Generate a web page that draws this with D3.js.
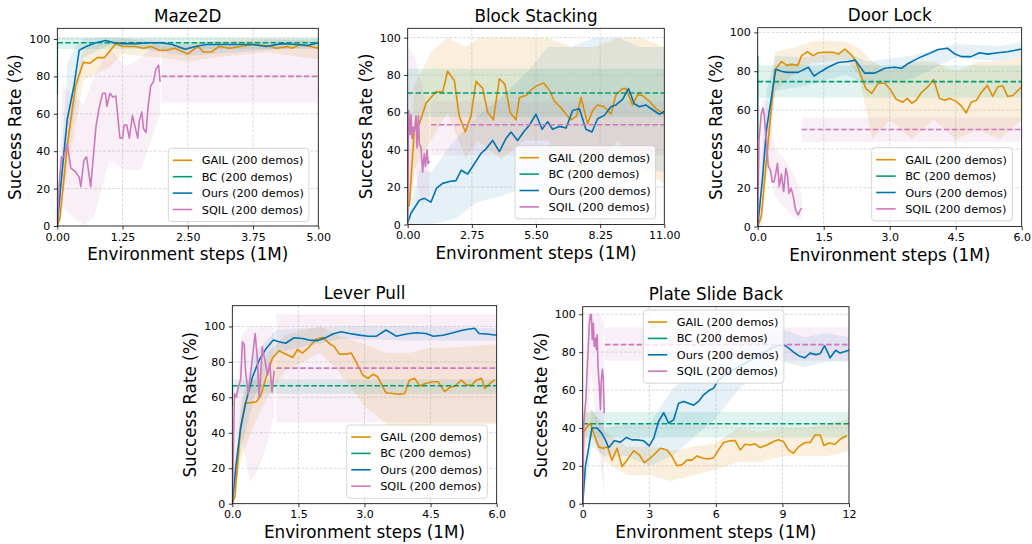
<!DOCTYPE html>
<html>
<head>
<meta charset="utf-8">
<script src="https://cdn.jsdelivr.net/npm/d3@7"></script>
<style>
    body { margin: 0; background: #fff; }
    text { font-family: "DejaVu Sans", sans-serif; fill: #000; }
</style>
</head>
<body>
<div id="chart"></div>
<script>

// ---- data ----
var panelTitles = ["Maze2D", "Block Stacking", "Door Lock", "Lever Pull", "Plate Slide Back"];
var xMaxes = [5, 11, 6, 6, 12];
var xTickValues = [[0, 1.25, 2.5, 3.75, 5], [0, 2.75, 5.5, 8.25, 11], [0, 1.5, 3, 4.5, 6], [0, 1.5, 3, 4.5, 6], [0, 3, 6, 9, 12]];
var xTickFormats = [".2f", ".2f", ".1f", ".1f", "d"];
var yTickValues = [0, 20, 40, 60, 80, 100];
var legendLabels = ["GAIL (200 demos)", "BC (200 demos)", "Ours (200 demos)", "SQIL (200 demos)"];

// BC: flat mean with band, plus the short segment at step 0
var bcMean = [98, 70.4, 74.6, 66.5, 42.2];
var bcLow = [94.6, 57.5, 66.5, 62, 35];
var bcHigh = [101, 83.4, 83, 70, 48.5];
var bcInitial = [[70, 98], null, [45, 88], [55, 66.5], null];

// SQIL: dashed final level after the run stops
var sqilTailStart = [2.0, 1.0, 1.0, 1.0, 1.0];
var sqilTailMean = [80, 53.4, 50, 76.5, 84];
var sqilTailLow = [66, 37, 43.5, 46, 75.5];
var sqilTailHigh = [96, 66, 56, 107, 93];

// Maze2D
var mazeGail = [[0,0],[0.05,4],[0.2,45],[0.35,75],[0.5,87.5],[0.62,87],[0.77,90],[0.9,90],[1.12,97.5],[1.25,96],[1.5,96],[1.65,95],[1.8,96],[1.95,94],[2.1,94],[2.25,95],[2.5,92],[2.7,96],[2.8,93],[2.95,93],[3.1,96],[3.3,95],[3.5,96],[3.75,97],[4.0,96.5],[4.2,95],[4.4,96],[4.5,95],[4.65,97],[4.85,96],[5.0,95]];
var mazeGailBand = [[0,0,0],[0.2,30,60],[0.5,78,95],[1.0,85,99],[1.25,92,100],[2.0,90,98],[2.5,88,97],[3.0,90,99],[4.0,93,100],[5.0,89,99]];
var mazeOurs = [[0,0],[0.06,20],[0.19,57],[0.32,75],[0.42,94],[0.55,96],[0.74,98],[0.93,99.2],[1.09,98],[1.25,97.5],[1.5,97.5],[1.75,98],[2.0,98],[2.2,97],[2.45,94.5],[2.65,96],[2.85,97],[3.35,97],[3.75,97],[4.0,96],[4.3,97.5],[4.6,97],[4.8,96.5],[5.0,98]];
var mazeOursBand = [[0,0,0],[0.2,40,88],[0.35,65,96],[0.5,90,100],[1.0,97,101],[2.5,91,98],[5.0,96,100]];
var mazeSqil = [[0,0],[0.03,20],[0.08,37],[0.13,37],[0.19,44],[0.26,31],[0.35,29],[0.42,26],[0.45,21],[0.51,35],[0.56,37],[0.64,21],[0.74,53],[0.8,63],[0.87,71],[0.92,71],[0.95,64],[1.01,71],[1.06,69],[1.12,69.5],[1.2,47],[1.25,47],[1.28,54],[1.33,54],[1.38,47],[1.44,59],[1.49,53],[1.54,47],[1.57,56],[1.62,61],[1.65,52],[1.7,50],[1.74,64],[1.79,75],[1.84,77],[1.89,84],[1.94,86],[1.97,77]];
var mazeSqilBand = [[0,0,0],[0.1,10,75],[0.3,5,70],[0.5,0,65],[0.7,5,80],[1.0,35,95],[1.3,30,85],[1.6,30,90],[1.97,60,100]];

// Block Stacking
var blockGail = [[0,10],[0.07,10],[0.29,52],[0.5,54],[0.79,65],[1.0,68],[1.21,71],[1.5,71],[1.71,82],[2.0,77],[2.21,58],[2.47,49.5],[2.71,58],[2.93,76.6],[3.21,73],[3.43,60],[3.67,56],[3.93,78],[4.17,75],[4.39,60],[4.64,56],[4.79,68],[5.07,69],[5.29,72],[5.5,74],[5.83,75.7],[6.07,72],[6.29,66],[6.53,63],[6.79,59],[7.0,56],[7.24,58],[7.43,68],[7.71,54],[7.93,61],[8.14,64],[8.43,63],[8.71,59],[8.93,69.5],[9.21,72.7],[9.36,72.7],[9.64,64],[9.86,69.5],[10.07,69],[10.36,66],[10.64,62],[11,59]];
var blockGailBand = [[0,0,20],[0.3,30,75],[1,45,92],[1.7,60,100],[2.5,35,95],[3,45,100],[4,35,100],[5,45,100],[6,45,100],[7,25,95],[8,30,95],[9,45,100],[10,30,100],[11,22,95]];
var blockOurs = [[0,1],[0.14,6],[0.5,13],[0.71,14],[1.0,12],[1.24,19.5],[1.5,22],[1.79,23],[2.07,23.5],[2.29,29],[2.57,27],[2.86,32.5],[3.14,38],[3.36,40.5],[3.64,45],[3.93,39],[4.21,46],[4.43,49.5],[4.71,45],[5.0,50],[5.21,53],[5.5,59],[5.76,51],[6.0,55],[6.21,51],[6.5,52.5],[6.79,51.6],[7.07,61],[7.36,62],[7.64,51],[7.9,49.5],[8.14,56.6],[8.43,58.4],[8.71,63],[8.93,64],[9.21,67],[9.47,72.7],[9.71,64.6],[9.93,63],[10.2,64],[10.5,61.4],[10.79,59],[11,60.5]];
var blockOursBand = [[0,0,2],[0.5,0,30],[1,0,28],[2,3,45],[3,12,58],[4,15,68],[5,20,80],[6,25,95],[7,30,95],[8,28,100],[9,35,100],[10,30,95],[11,28,95]];
var blockSqil = [[0,0],[0.04,61],[0.1,48],[0.14,59],[0.19,46],[0.24,52],[0.29,50],[0.36,58],[0.4,41],[0.46,58],[0.5,43],[0.57,41],[0.64,28],[0.71,38],[0.76,31],[0.83,40],[0.87,32.5],[0.93,34]];
var blockSqilBand = [[0,0,95],[0.3,30,90],[0.6,10,75],[0.93,15,55]];

// Door Lock
var doorGail = [[0,0],[0.08,5],[0.39,80.6],[0.54,85],[0.66,83],[0.77,83.5],[0.91,83],[1.0,88],[1.13,90],[1.26,88],[1.38,89.5],[1.53,89.7],[1.71,89.7],[1.84,88.8],[1.98,91.4],[2.11,88.8],[2.21,86],[2.34,78],[2.46,71],[2.59,68.6],[2.74,73.8],[2.89,73.8],[3.0,71],[3.15,65.5],[3.3,64],[3.4,66],[3.5,63.5],[3.6,65],[3.72,69],[3.87,72],[4.0,75.7],[4.13,66],[4.25,65],[4.36,66],[4.51,64.5],[4.63,62],[4.74,58.5],[4.85,64],[4.97,65],[5.08,69],[5.22,72.7],[5.34,67],[5.46,72],[5.57,72.5],[5.68,67],[5.8,67.5],[6.0,72]];
var doorGailBand = [[0,0,0],[0.1,0,20],[0.4,70,90],[0.8,78,92],[1.2,84,95],[1.6,85,96],[2.0,86,95],[2.3,78,92],[2.6,45,85],[3.0,55,80],[3.5,45,85],[4.0,55,85],[4.5,45,80],[5.0,50,85],[5.5,45,85],[6.0,55,88]];
var doorOurs = [[0,0],[0.11,25],[0.2,50],[0.41,81],[0.54,80],[0.66,79.4],[0.92,79.4],[1.15,82],[1.28,77.5],[1.45,80],[1.6,82],[1.83,84.5],[2.06,85],[2.22,85.7],[2.43,79],[2.66,79],[2.89,81.5],[3.11,82],[3.27,81.5],[3.42,84],[3.64,86.6],[3.87,88.8],[4.1,91.2],[4.32,91.8],[4.47,89],[4.63,87.5],[4.85,87.5],[5.04,89.5],[5.23,88.8],[5.46,89.5],[5.68,90],[6.0,91.4]];
var doorOursBand = [[0,0,0],[0.2,35,70],[0.4,70,88],[1.0,72,87],[2.0,78,90],[2.5,73,85],[3.5,76,88],[4.5,87,94],[5.5,85,93],[6,88,95]];
var doorSqil = [[0,0],[0.03,44.6],[0.08,58],[0.12,61],[0.15,57],[0.2,43],[0.24,31],[0.29,29],[0.33,23],[0.37,23],[0.41,27.4],[0.45,32.6],[0.49,20.6],[0.54,27],[0.59,18],[0.64,30],[0.68,25.7],[0.71,17],[0.76,19.7],[0.81,15.4],[0.86,8.6],[0.92,6],[0.97,8.6],[1.0,9.4]];
var doorSqilBand = [[0,0,0],[0.1,30,65],[0.2,35,65],[0.4,15,40],[0.6,10,35],[0.8,5,28],[1.0,3,16]];

// Lever Pull
var leverGail = [[0,0],[0.06,4],[0.19,43],[0.3,56.6],[0.42,57],[0.55,57.5],[0.65,61.3],[0.77,71.6],[0.91,82],[1.06,86.3],[1.21,84.4],[1.37,82.5],[1.48,87],[1.59,85],[1.75,88.5],[1.9,92.7],[2.05,93.8],[2.2,90.4],[2.32,88.5],[2.43,84.4],[2.58,84.4],[2.7,85],[2.81,80],[2.96,72.6],[3.08,70.7],[3.19,73],[3.3,71.6],[3.42,65.6],[3.49,62.6],[3.64,62.2],[3.8,61.7],[3.91,62.2],[4.02,69.7],[4.14,70.7],[4.25,66.4],[4.4,67.9],[4.56,68.8],[4.67,68.8],[4.82,63.2],[4.94,65.6],[5.05,66.4],[5.2,69.7],[5.32,66.9],[5.43,66.9],[5.54,69.7],[5.66,70.7],[5.73,65],[5.85,67.9],[5.96,70]];
var leverGailBand = [[0,0,0],[0.2,25,60],[0.5,45,70],[0.8,60,85],[1.2,75,95],[1.6,80,98],[2.0,85,100],[2.4,75,95],[3.0,55,90],[3.5,45,85],[4.0,40,85],[4.5,45,88],[5.0,45,88],[6,45,90]];
var leverOurs = [[0,0],[0.08,21],[0.19,43],[0.3,56.6],[0.46,71.6],[0.61,81],[0.77,87.6],[0.93,92.3],[1.06,91.4],[1.21,90.5],[1.4,93.6],[1.59,93.2],[1.75,92.3],[1.94,92],[2.13,93.8],[2.28,95.7],[2.47,97],[2.66,96],[2.89,95.1],[3.08,94.5],[3.27,94.5],[3.49,98],[3.72,94.5],[3.95,95.7],[4.18,96.4],[4.4,96],[4.56,94.5],[4.78,95],[5.01,96.4],[5.24,98],[5.5,99],[5.6,96],[5.77,95.7],[6.0,95]];
var leverOursBand = [[0,0,0],[0.2,30,55],[0.5,60,85],[1.0,85,98],[1.5,88,99],[2.5,93,100],[4,92,100],[6,92,99]];
var leverSqil = [[0,0],[0.05,62],[0.09,60],[0.14,66],[0.19,70],[0.23,91.4],[0.27,90],[0.3,75],[0.36,62],[0.4,70],[0.46,83],[0.52,96],[0.57,81],[0.61,60],[0.65,75],[0.68,88.5],[0.74,81],[0.8,72.6],[0.85,79],[0.9,63],[0.95,75]];
var leverSqilBand = [[0,0,20],[0.2,40,95],[0.4,12,100],[0.6,20,100],[0.8,35,100],[0.95,50,100]];

// Plate Slide Back
var plateGail = [[0,37],[0.2,40.7],[0.35,42.5],[0.5,37.2],[0.72,30],[0.92,29.3],[1.12,30],[1.32,23],[1.55,29.3],[1.77,19.6],[2.0,23],[2.3,28],[2.56,25.7],[2.77,21.7],[3.0,23.6],[3.27,26.6],[3.5,29.3],[3.8,28.4],[4.02,25],[4.25,20],[4.47,20.5],[4.7,23],[4.92,23],[5.15,25.2],[5.42,24],[5.67,23.6],[5.9,24.3],[6.12,28.4],[6.35,32.3],[6.65,33.2],[6.87,33.3],[7.1,28.4],[7.32,31.4],[7.55,31],[7.77,31.6],[8.0,29.6],[8.3,31],[8.6,32.8],[8.82,33.7],[9.05,32.8],[9.27,28.4],[9.5,26.6],[9.72,30],[10.02,32.3],[10.25,32.3],[10.47,36.3],[10.7,36.3],[10.87,30.7],[11.1,32],[11.36,31.4],[11.6,34],[11.9,36]];
var plateGailBand = [[0,30,45],[0.4,35,50],[1,22,38],[2,15,30],[3,15,30],[4,12,28],[5,15,30],[6,18,32],[7,22,40],[8,22,38],[9,25,40],[10,25,40],[11,25,42],[12,28,45]];
var plateOurs = [[0,0],[0.12,19.6],[0.2,25],[0.42,40],[0.65,40],[0.87,37],[1.02,33.7],[1.17,29.6],[1.42,33.2],[1.7,32.5],[1.97,35],[2.22,33.7],[2.45,33.7],[2.75,33.2],[3.0,30.5],[3.2,34.6],[3.42,43.4],[3.65,48],[3.87,42.5],[4.1,44.3],[4.32,53],[4.55,54],[4.77,53],[5.0,52],[5.22,54],[5.45,57.5],[5.67,59.6],[5.9,61],[6.1,65],[6.4,68],[6.7,70],[7.0,72],[7.3,74],[7.6,76],[7.9,78],[8.2,80],[8.5,82],[8.8,83.5],[9.05,84],[9.3,82],[9.5,80],[9.75,78],[10.0,77],[10.25,79.5],[10.5,78.7],[10.7,79.2],[10.9,83.4],[11.15,77],[11.4,81],[11.6,79.5],[12.0,81]];
var plateOursBand = [[0,0,0],[0.4,30,50],[1,25,40],[2,25,42],[3,20,42],[4,25,60],[5,35,70],[6,45,75],[7,60,85],[8,70,90],[9,75,92],[10,72,88],[11,75,90],[12,75,88]];
var plateSqil = [[0,0],[0.05,42.5],[0.09,47.8],[0.15,56.6],[0.2,70.7],[0.24,79.5],[0.3,95.4],[0.35,99.8],[0.39,99.8],[0.43,86.6],[0.48,95.4],[0.52,83],[0.57,87.5],[0.62,81.3],[0.65,89.2],[0.69,72.5],[0.75,62],[0.8,49.6],[0.84,65.4],[0.89,71],[0.93,65.4],[0.97,47.8]];
var plateSqilBand = [[0,0,0],[0.2,40,100],[0.4,70,100],[0.6,40,100],[0.8,20,100],[0.97,5,95]];

var gailSeries = [mazeGail, blockGail, doorGail, leverGail, plateGail];
var gailBands = [mazeGailBand, blockGailBand, doorGailBand, leverGailBand, plateGailBand];
var oursSeries = [mazeOurs, blockOurs, doorOurs, leverOurs, plateOurs];
var oursBands = [mazeOursBand, blockOursBand, doorOursBand, leverOursBand, plateOursBand];
var sqilSeries = [mazeSqil, blockSqil, doorSqil, leverSqil, plateSqil];
var sqilBands = [mazeSqilBand, blockSqilBand, doorSqilBand, leverSqilBand, plateSqilBand];

// ---- layout ----
var colors = {gail: "#de8f05", bc: "#029e73", ours: "#0173b2", sqil: "#cc78bc"};
var legendColors = [colors.gail, colors.bc, colors.ours, colors.sqil];

var layout = [
    {left: 57.3, right: 318.3, top: 28.3, bottom: 226, yMax: 105.7, legendX: 168.3, legendY: 148.3},
    {left: 407.7, right: 664.3, top: 28.3, bottom: 224.5, yMax: 105, legendX: 515, legendY: 145.7},
    {left: 757.7, right: 1021.7, top: 27.7, bottom: 226.5, yMax: 102.4, legendX: 871.7, legendY: 147.7},
    {left: 232.3, right: 496.7, top: 305.7, bottom: 503.7, yMax: 111.7, legendX: 346.7, legendY: 425},
    {left: 582.7, right: 849, top: 306.7, bottom: 503.7, yMax: 104, legendX: 643.3, legendY: 310}
];

var svg = d3.select("#chart")
    .append("svg")
    .attr("width", 1032)
    .attr("height", 544);

layout.forEach(function (box, i) {
    drawPanel(i, box);
});

function drawPanel(i, box) {
    var xMax = xMaxes[i];
    var xScale = d3.scaleLinear().domain([0, xMax]).range([box.left, box.right]);
    var yScale = d3.scaleLinear().domain([0, box.yMax]).range([box.bottom, box.top]);

    var g = svg.append("g");

    g.append("clipPath")
        .attr("id", "clip" + i)
        .append("rect")
        .attr("x", box.left)
        .attr("y", box.top)
        .attr("width", box.right - box.left)
        .attr("height", box.bottom - box.top);

    var plot = g.append("g").attr("clip-path", "url(#clip" + i + ")");

    var area = d3.area()
        .x(function (d) { return xScale(d[0]); })
        .y0(function (d) { return yScale(d[1]); })
        .y1(function (d) { return yScale(d[2]); });

    var line = d3.line()
        .x(function (d) { return xScale(d[0]); })
        .y(function (d) { return yScale(d[1]); });

    function band(data, color, op) {
        plot.append("path")
            .attr("d", area(data))
            .attr("fill", color)
            .attr("fill-opacity", op);
    }

    function curve(data, color, dashed) {
        plot.append("path")
            .attr("d", line(data))
            .attr("fill", "none")
            .attr("stroke", color)
            .attr("stroke-width", 1.6)
            .attr("stroke-linejoin", "round")
            .attr("stroke-dasharray", dashed ? "5.5,2.4" : null);
    }

    // bands
    band(gailBands[i], colors.gail, 0.14);
    band([[0, bcLow[i], bcHigh[i]], [xMax, bcLow[i], bcHigh[i]]], colors.bc, 0.12);
    band(oursBands[i], colors.ours, 0.1);
    band(sqilBands[i], colors.sqil, 0.12);
    band([[sqilTailStart[i], sqilTailLow[i], sqilTailHigh[i]], [xMax, sqilTailLow[i], sqilTailHigh[i]]], colors.sqil, 0.12);

    // grid
    plot.selectAll(".vgrid")
        .data(xTickValues[i])
        .enter().append("line")
        .attr("x1", function (d) { return xScale(d); })
        .attr("x2", function (d) { return xScale(d); })
        .attr("y1", box.top)
        .attr("y2", box.bottom)
        .attr("stroke", "#b0b0b0")
        .attr("stroke-opacity", 0.6)
        .attr("stroke-width", 0.8)
        .attr("stroke-dasharray", "3,1.6");

    plot.selectAll(".hgrid")
        .data(yTickValues)
        .enter().append("line")
        .attr("x1", box.left)
        .attr("x2", box.right)
        .attr("y1", function (d) { return yScale(d); })
        .attr("y2", function (d) { return yScale(d); })
        .attr("stroke", "#b0b0b0")
        .attr("stroke-opacity", 0.6)
        .attr("stroke-width", 0.8)
        .attr("stroke-dasharray", "3,1.6");

    // lines
    curve(gailSeries[i], colors.gail, false);
    curve([[0, bcMean[i]], [xMax, bcMean[i]]], colors.bc, true);
    if (bcInitial[i]) {
        curve([[0, bcInitial[i][0]], [0, bcInitial[i][1]]], colors.bc, false);
    }
    curve(oursSeries[i], colors.ours, false);
    curve(sqilSeries[i], colors.sqil, false);
    curve([[sqilTailStart[i], sqilTailMean[i]], [xMax, sqilTailMean[i]]], colors.sqil, true);

    // axes
    var xAxis = d3.axisBottom(xScale)
        .tickValues(xTickValues[i])
        .tickFormat(d3.format(xTickFormats[i]))
        .tickSize(3.5)
        .tickPadding(3.5);
    var yAxis = d3.axisLeft(yScale)
        .tickValues(yTickValues)
        .tickFormat(d3.format("d"))
        .tickSize(3.5)
        .tickPadding(3.5);

    var xg = g.append("g")
        .attr("transform", "translate(0," + box.bottom + ")")
        .call(xAxis);
    var yg = g.append("g")
        .attr("transform", "translate(" + box.left + ",0)")
        .call(yAxis);
    [xg, yg].forEach(function (a) {
        a.select(".domain").remove();
        a.selectAll("text").style("font-size", "11px").style("font-family", "DejaVu Sans");
        a.selectAll("line").attr("stroke", "#000").attr("stroke-width", 0.8);
    });

    g.append("rect")
        .attr("x", box.left)
        .attr("y", box.top)
        .attr("width", box.right - box.left)
        .attr("height", box.bottom - box.top)
        .attr("fill", "none")
        .attr("stroke", "#000")
        .attr("stroke-width", 0.8);

    // titles
    g.append("text")
        .attr("x", (box.left + box.right) / 2)
        .attr("y", box.top - 6.5)
        .attr("text-anchor", "middle")
        .style("font-size", "16.8px")
        .text(panelTitles[i]);

    g.append("text")
        .attr("x", (box.left + box.right) / 2)
        .attr("y", box.bottom + 34)
        .attr("text-anchor", "middle")
        .style("font-size", "16.8px")
        .text("Environment steps (1M)");

    g.append("text")
        .attr("transform", "translate(" + (box.left - 36) + "," + ((box.top + box.bottom) / 2) + ") rotate(-90)")
        .attr("text-anchor", "middle")
        .style("font-size", "16.8px")
        .text("Success Rate (%)");

    // legend
    var lg = g.append("g")
        .attr("transform", "translate(" + box.legendX + "," + box.legendY + ")");
    var frame = lg.append("rect")
        .attr("rx", 3)
        .attr("fill", "#fff")
        .attr("fill-opacity", 0.8)
        .attr("stroke", "#cccccc")
        .attr("stroke-width", 0.8);
    var maxW = 0;
    legendLabels.forEach(function (label, k) {
        var cy = 12 + k * 16.4;
        lg.append("line")
            .attr("x1", 4.5)
            .attr("x2", 24)
            .attr("y1", cy)
            .attr("y2", cy)
            .attr("stroke", legendColors[k])
            .attr("stroke-width", 1.6);
        var t = lg.append("text")
            .attr("x", 33.5)
            .attr("y", cy)
            .attr("dy", "0.36em")
            .style("font-size", "11.3px")
            .text(label);
        maxW = Math.max(maxW, t.node().getComputedTextLength());
    });
    frame.attr("width", 33.5 + maxW + 5).attr("height", 12 * 2 + 3 * 16.4);
}

</script>
</body>
</html>
